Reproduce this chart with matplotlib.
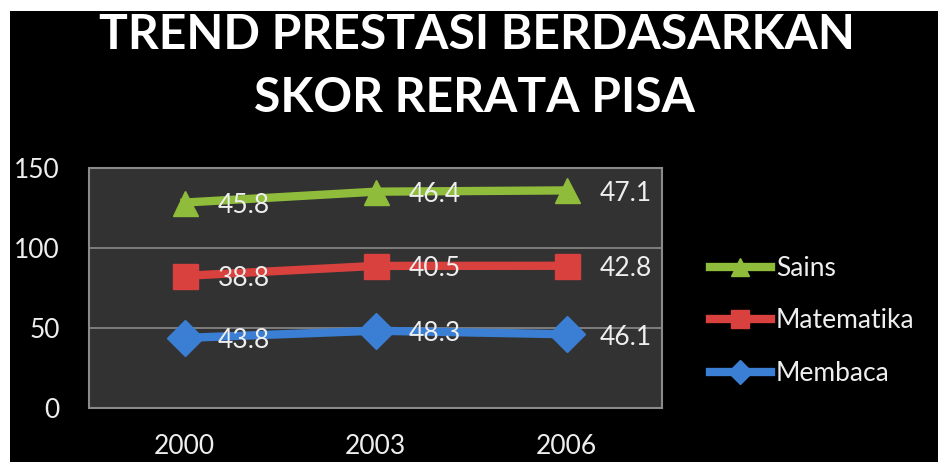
import matplotlib
matplotlib.use('Agg')
import matplotlib.pyplot as plt
from matplotlib.patches import Rectangle
import numpy as np

# PISA mean scores (shown as data labels), stacked line chart
years = ['2000', '2003', '2006']
membaca = [43.8, 48.3, 46.1]
matematika = [38.8, 40.5, 42.8]
sains = [45.8, 46.4, 47.1]

series = ['Membaca', 'Matematika', 'Sains']
colors = ['#3b7fd4', '#d8413e', '#8fbc3a']
markers = ['D', 's', '^']

plt.rcParams['font.family'] = ['Lato', 'DejaVu Sans']

fig = plt.figure(figsize=(9.38, 4.62), dpi=100, facecolor='white')
# black slide background with thin white strip top/left
fig.patches.append(Rectangle((10 / 938, 0), 1 - 10 / 938, 1 - 11 / 462,
                             transform=fig.transFigure, facecolor='black',
                             edgecolor='none', zorder=-10))

ax = fig.add_axes([89 / 938, 54 / 462, 573 / 938, 240 / 462])
ax.set_facecolor('#323232')

x = np.arange(len(years))
values = [membaca, matematika, sains]
base = np.zeros(len(years))
handles = {}
for name, vals, col, mk in zip(series, values, colors, markers):
    top = base + np.array(vals)
    ln, = ax.plot(x, top, color=col, linewidth=6, marker=mk, markersize=18,
                  markeredgecolor=col, zorder=3, label=name)
    handles[name] = ln
    for xi, yi, v in zip(x, top, vals):
        ax.annotate(f'{v:.1f}', (xi, yi), xytext=(24, -2), textcoords='offset points',
                    ha='left', va='center', color='#eeeeee', fontsize=19, zorder=4)
    base = top

ax.set_xlim(-0.5, 2.5)
ax.set_ylim(0, 150)
ax.set_yticks([0, 50, 100, 150])
ax.set_xticks(x)
ax.set_xticklabels(years)
ax.tick_params(axis='both', length=0, colors='#eeeeee', labelsize=19)
ax.tick_params(axis='y', pad=21)
ax.tick_params(axis='x', pad=19)
ax.grid(axis='y', color='#8a8a8a', linewidth=1.2)
ax.set_axisbelow(True)
for s in ax.spines.values():
    s.set_color('#8a8a8a')
    s.set_linewidth(1.5)

# title, sized so the first line spans about 755 px like the original
t1 = fig.text(0.508, 1 - 35 / 462, 'TREND PRESTASI BERDASARKAN', ha='center', va='center',
              color='white', fontsize=36, fontweight='bold')
t2 = fig.text(0.506, 1 - 98 / 462, 'SKOR RERATA PISA', ha='center', va='center',
              color='white', fontsize=36, fontweight='bold')
r = fig.canvas.get_renderer()
w = t1.get_window_extent(r).width
size = 36 * 755 / w
t1.set_fontsize(size)
t2.set_fontsize(size)

leg = fig.legend([handles['Sains'], handles['Matematika'], handles['Membaca']],
                 ['Sains', 'Matematika', 'Membaca'],
                 loc='center left', bbox_to_anchor=(710 / 938, 1 - 321 / 462),
                 frameon=False, fontsize=19, labelcolor='#eeeeee',
                 handlelength=2.3, handletextpad=0.2, labelspacing=1.05,
                 borderpad=0, borderaxespad=0, markerscale=0.7)

fig.savefig('out.png', dpi=100, facecolor=fig.get_facecolor())
